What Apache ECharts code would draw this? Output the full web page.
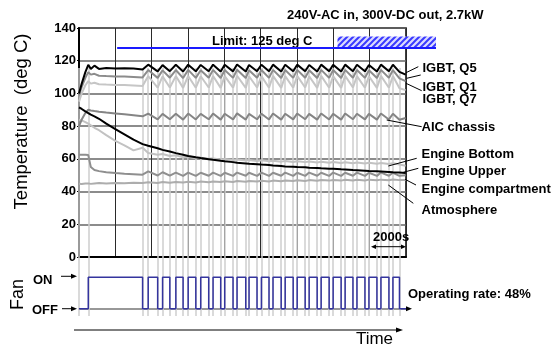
<!DOCTYPE html>
<html>
<head>
<meta charset="utf-8">
<script src="https://cdn.jsdelivr.net/npm/echarts@6.0.0/dist/echarts.min.js"></script>
<style>
  html, body {margin: 0; padding: 0; background: #fff;}
  #chart {width: 558px; height: 344px;}
</style>
</head>
<body>
<div id="chart"></div>
<script>
// time (s) of each sample; temps read at these instants
const times = [0, 150, 350, 510, 650, 850, 1100, 1500, 2000, 2500,
  3000, 3500, 3810, 4330, 4600, 5000, 5330, 5730, 6010, 6430,
  6700, 7140, 7380, 7800, 8020, 8480, 8700, 9180, 9360, 9800,
  10040, 10460, 10680, 11130, 11350, 11790, 12010, 12450, 12670, 13110,
  13330, 13770, 13990, 14430, 14650, 15080, 15300, 15740, 15960, 16400,
  16620, 17060, 17280, 17640, 17980];

const igbtQ5 = [100, 106, 113, 117.5, 115, 117, 115, 115.5, 115.2, 115.4,
  115.2, 114.6, 117.6, 113.5, 117.3, 113.6, 117.5, 113.4, 117.6, 113.5,
  117.4, 113.6, 117.6, 113.4, 117.5, 113.5, 117.7, 113.4, 117.4, 113.6,
  117.5, 113.5, 117.6, 113.4, 117.5, 113.5, 117.6, 113.6, 117.4, 113.4,
  117.6, 113.5, 117.5, 113.4, 117.6, 113.6, 117.5, 113.5, 117.4, 113.4,
  117.6, 113.5, 117.5, 113.2, 111.5];
const igbtQ1 = [99, 104, 109.5, 113, 111.5, 112, 110.8, 110.6, 110.4, 110.3,
  110.1, 109.8, 114.3, 109.5, 114.1, 109.6, 114.3, 109.4, 114.4, 109.5,
  114.2, 109.6, 114.4, 109.4, 114.3, 109.5, 114.5, 109.4, 114.2, 109.6,
  114.3, 109.5, 114.4, 109.4, 114.3, 109.5, 114.4, 109.6, 114.2, 109.4,
  114.4, 109.5, 114.3, 109.4, 114.4, 109.6, 114.3, 109.5, 114.2, 109.4,
  114.4, 109.5, 114.3, 109.2, 107.5];
const igbtQ7 = [95, 100, 105, 107.5, 106, 106.5, 105.6, 105.4, 105.2, 105.1,
  104.9, 104.6, 110.6, 103.5, 110.4, 103.6, 110.6, 103.4, 110.7, 103.5,
  110.5, 103.6, 110.7, 103.4, 110.6, 103.5, 110.8, 103.4, 110.5, 103.6,
  110.6, 103.5, 110.7, 103.4, 110.6, 103.5, 110.7, 103.6, 110.5, 103.4,
  110.7, 103.5, 110.6, 103.4, 110.7, 103.6, 110.6, 103.5, 110.5, 103.4,
  110.7, 103.5, 110.6, 103.2, 102];
const aicChassis = [80, 84, 88, 90, 89.6, 89.2, 88.8, 88.3, 87.8, 87.3,
  86.7, 86, 87.6, 84.1, 87.5, 84.2, 87.6, 84, 87.7, 84.1,
  87.5, 84.2, 87.7, 84, 87.6, 84.1, 87.8, 84, 87.5, 84.2,
  87.6, 84.1, 87.7, 84, 87.6, 84.1, 87.7, 84.2, 87.5, 84,
  87.7, 84.1, 87.6, 84, 87.7, 84.2, 87.6, 84.1, 87.5, 84,
  87.7, 84.1, 87.6, 83.9, 85];
const engineUpper = [91.5, 90.5, 89, 88, 87, 86, 84.5, 81.5, 78.2, 75,
  71.7, 69, 68, 66.5, 65.5, 64.5, 63.5, 62.5, 61.8, 61,
  60.5, 59.8, 59.4, 58.8, 58.5, 58, 57.6, 57.2, 57, 56.7,
  56.5, 56.2, 56, 55.6, 55.4, 55.2, 55, 54.8, 54.6, 54.4,
  54.2, 54, 53.9, 53.6, 53.5, 53.2, 53.1, 52.8, 52.6, 52.4,
  52.3, 52, 51.8, 51.6, 51.3];
const engineBottom = [84, 83.5, 82.5, 81.5, 80.5, 79, 77.5, 74.5, 71, 68.3,
  65.2, 66.8, 63.6, 62.5, 63, 61.8, 62.2, 61, 61.3, 60.4,
  60.7, 60, 60.3, 59.6, 59.9, 59.3, 59.6, 59, 59.3, 58.7,
  59.1, 58.5, 58.9, 58.3, 58.7, 58.1, 58.6, 58, 58.4, 57.8,
  58.2, 57.6, 58.1, 57.5, 57.9, 57.3, 57.8, 57.2, 57.6, 57,
  57.5, 56.9, 57.3, 56.5, 55.8];
const engineCompartment = [62.5, 62.5, 62.5, 62.3, 55, 53.2, 52.5, 51.8, 51.3, 50.9,
  50.6, 50.3, 52.3, 49.8, 51.8, 49.7, 51.6, 49.6, 51.6, 49.6,
  51.5, 49.7, 51.6, 49.6, 51.5, 49.6, 51.6, 49.7, 51.5, 49.6,
  51.6, 49.6, 51.5, 49.7, 51.6, 49.6, 51.5, 49.6, 51.6, 49.7,
  51.5, 49.6, 51.6, 49.6, 51.5, 49.7, 51.6, 49.6, 51.5, 49.6,
  51.6, 49.7, 51.5, 49.6, 50];
const atmosphere = [44.8, 44.6, 44.9, 45, 44.7, 45, 45.2, 45, 45.3, 45.1,
  45.4, 45.2, 45.7, 45.3, 45.8, 45.4, 45.9, 45.5, 46, 45.6,
  46.1, 45.7, 46.2, 45.8, 46.3, 45.9, 46.4, 46, 46.5, 46.1,
  46.6, 46.2, 46.7, 46.3, 46.8, 46.4, 46.9, 46.5, 47, 46.6,
  47.1, 46.7, 47.1, 46.7, 47.2, 46.8, 47.2, 46.8, 47.3, 46.9,
  47.3, 46.9, 47.4, 47, 47];

// fan toggles (s): starts OFF, first entry switches ON
const fanSwitch = [510, 3500, 3810, 4330, 4600, 5000, 5330, 5730, 6010, 6430,
  6700, 7140, 7380, 7800, 8020, 8480, 8700, 9180, 9360, 9800,
  10040, 10460, 10680, 11130, 11350, 11790, 12010, 12450, 12670, 13110,
  13330, 13770, 13990, 14430, 14650, 15080, 15300, 15740, 15960, 16400,
  16620, 17060, 17280, 17640];

const tempTicks = [0, 20, 40, 60, 80, 100, 120, 140];
const timeMax = 18000, timeStep = 2000;
const limitTemp = 127.7;

const FONT = '"Liberation Sans", Arial, sans-serif';
const pair = arr => times.map((t, i) => [t, arr[i]]);

let state = 0;
const fanPts = [[0, 0]];
fanSwitch.forEach(t => {
    fanPts.push([t, state]);
    state = 1 - state;
    fanPts.push([t, state]);
});
fanPts.push([timeMax, state]);

const lines = [
    {d: atmosphere, c: '#adadad'},
    {d: engineCompartment, c: '#8f8f8f'},
    {d: engineBottom, c: '#c2c2c2'},
    {d: igbtQ7, c: '#c6c6c6'},
    {d: igbtQ1, c: '#8c8c8c'},
    {d: aicChassis, c: '#858585'},
    {d: engineUpper, c: '#000'},
    {d: igbtQ5, c: '#000'},
];

const chart = echarts.init(document.getElementById('chart'));
chart.setOption({
    animation: false,
    textStyle: {fontFamily: FONT},
    grid: [
        {left: 79, right: 152, top: 28, bottom: 87, show: true, borderColor: '#000', borderWidth: 1.5},
        {left: 79, right: 152, top: 271, height: 44},
        {left: 79, right: 152, top: 68, bottom: 28},
    ],
    xAxis: [
        {
            gridIndex: 0, type: 'value', min: 0, max: timeMax, interval: timeStep,
            axisLabel: {show: false}, axisTick: {show: false},
            axisLine: {lineStyle: {color: '#000', width: 2}},
            splitLine: {show: true, lineStyle: {color: '#2a2a2a', width: 1}},
        },
        {
            gridIndex: 1, type: 'value', min: 0, max: timeMax,
            axisLabel: {show: false}, axisTick: {show: false}, splitLine: {show: false},
            axisLine: {onZero: true, lineStyle: {color: '#777', width: 1.5}},
        },
        {gridIndex: 2, type: 'value', min: 0, max: timeMax, show: false},
    ],
    yAxis: [
        {
            gridIndex: 0, type: 'value', min: tempTicks[0], max: tempTicks[tempTicks.length - 1], interval: 20,
            axisLine: {show: true, lineStyle: {color: '#000', width: 2}},
            axisTick: {show: true, length: 2, lineStyle: {color: '#000'}},
            axisLabel: {color: '#000', fontWeight: 'bold', fontSize: 13, margin: 3, fontFamily: FONT},
            splitLine: {show: true, lineStyle: {color: '#666', width: 1.5}},
        },
        {gridIndex: 1, type: 'value', min: -0.2, max: 1.2, show: false},
        {gridIndex: 2, type: 'value', min: 0, max: 1, show: false},
    ],
    series: [
        {
            type: 'line', xAxisIndex: 2, yAxisIndex: 2, data: [], symbol: 'none', z: 1, silent: true,
            markLine: {
                z: 1, silent: true, symbol: ['none', 'none'], label: {show: false},
                lineStyle: {color: '#cecece', width: 1.5, type: 'solid'},
                emphasis: {disabled: true},
                data: [0].concat(fanSwitch).map(t => ({xAxis: t})),
            },
        },
        ...lines.map(l => ({
            type: 'line', xAxisIndex: 0, yAxisIndex: 0, symbol: 'none', silent: true, z: 3,
            data: pair(l.d), lineStyle: {color: l.c, width: 2},
        })),
        {
            type: 'line', xAxisIndex: 1, yAxisIndex: 1, symbol: 'none', silent: true, z: 4,
            data: fanPts, lineStyle: {color: '#34349e', width: 1.5},
        },
    ],
});

// annotations
const P = (g, t, v) => chart.convertToPixel({gridIndex: g}, [t, v]);
const limY = P(0, 0, limitTemp)[1];
const hatchTop = P(0, 0, 134.8)[1];
const hx1 = P(0, 14230, 0)[0];

const hatch = document.createElement('canvas');
hatch.width = 6; hatch.height = 6;
const hc = hatch.getContext('2d');
hc.fillStyle = '#dcdcff'; hc.fillRect(0, 0, 6, 6);
hc.strokeStyle = '#3a3aff'; hc.lineWidth = 2;
hc.beginPath();
hc.moveTo(0, 6); hc.lineTo(6, 0);
hc.moveTo(-3, 3); hc.lineTo(3, -3);
hc.moveTo(3, 9); hc.lineTo(9, 3);
hc.stroke();

const txt = (text, x, y, size, opts = {}) => ({
    type: 'text', x, y, rotation: opts.rot || 0, z: 10,
    style: {
        text, fill: '#000', fontFamily: FONT, fontSize: size,
        fontWeight: opts.bold === false ? 'normal' : 'bold',
        align: opts.align || 'left', verticalAlign: 'middle',
    },
});
const seg = (x1, y1, x2, y2, w = 1, c = '#000') => ({
    type: 'line', z: 10, shape: {x1, y1, x2, y2}, style: {stroke: c, lineWidth: w},
});
const head = (pts) => ({type: 'polygon', z: 10, shape: {points: pts}, style: {fill: '#000'}});

const onY = P(1, 0, 1)[1], offY = P(1, 0, 0)[1];
const rightEdge = P(0, timeMax, 0)[0];

chart.setOption({
    graphic: [
        txt('240V-AC in, 300V-DC out, 2.7kW', 287, 15, 13),
        txt('Limit: 125 deg C', 212, 41.5, 13),
        {type: 'rect', z: 9, shape: {x: hx1, y: hatchTop, width: 436 - hx1, height: limY - hatchTop},
            style: {fill: {image: hatch, repeat: 'repeat'}}},
        seg(P(0, 2100, 0)[0], limY, 436, limY, 2, '#1a1aff'),
        txt('Temperature  (deg C)', 22, 121.5, 18.5, {bold: false, align: 'center', rot: Math.PI / 2}),
        txt('Fan', 18.5, 294.5, 18, {bold: false, align: 'center', rot: Math.PI / 2}),
        txt('ON', 33, onY + 3, 13),
        txt('OFF', 32, offY + 2, 13),
        seg(61, onY - 1, 72, onY - 1), head([[71, onY - 3.5], [77, onY - 1], [71, onY + 1.5]]),
        seg(62, offY, 72, offY), head([[71, offY - 2.5], [77, offY], [71, offY + 2.5]]),
        head([[rightEdge, offY - 2.5], [rightEdge + 6, offY], [rightEdge, offY + 2.5]]),
        txt('Operating rate: 48%', 408, 294, 13),
        seg(74, 330, 398, 330), head([[396, 327.5], [403, 330], [396, 332.5]]),
        txt('Time', 374.5, 339, 17, {bold: false, align: 'center'}),
        txt('2000s', 373, 237, 13),
        seg(374, 246.7, 403, 246.7), head([[376, 244.5], [371, 246.7], [376, 249]]),
        head([[401, 244.5], [406, 246.7], [401, 249]]),
        txt('IGBT, Q5', 422.5, 68.5, 13),
        txt('IGBT, Q1', 422.5, 87, 13),
        txt('IGBT, Q7', 422.5, 99.5, 13),
        txt('AIC chassis', 421.5, 127, 13),
        txt('Engine Bottom', 421.5, 154.5, 13),
        txt('Engine Upper', 421.5, 171.5, 13),
        txt('Engine compartment', 421.5, 189.5, 13),
        txt('Atmosphere', 421.5, 210, 13),
        seg(406, 72.7, 418.3, 66.7),
        seg(406.7, 78.3, 420.7, 75),
        seg(406, 83.3, 421.7, 90.7),
        seg(386.7, 120, 421.7, 126.7),
        seg(388.3, 166, 416.7, 158.3),
        seg(403.3, 172.3, 418.3, 168.3),
        seg(405, 179.3, 416, 185),
        seg(388.3, 185, 413.3, 203.3),
    ],
});
</script>
</body>
</html>
